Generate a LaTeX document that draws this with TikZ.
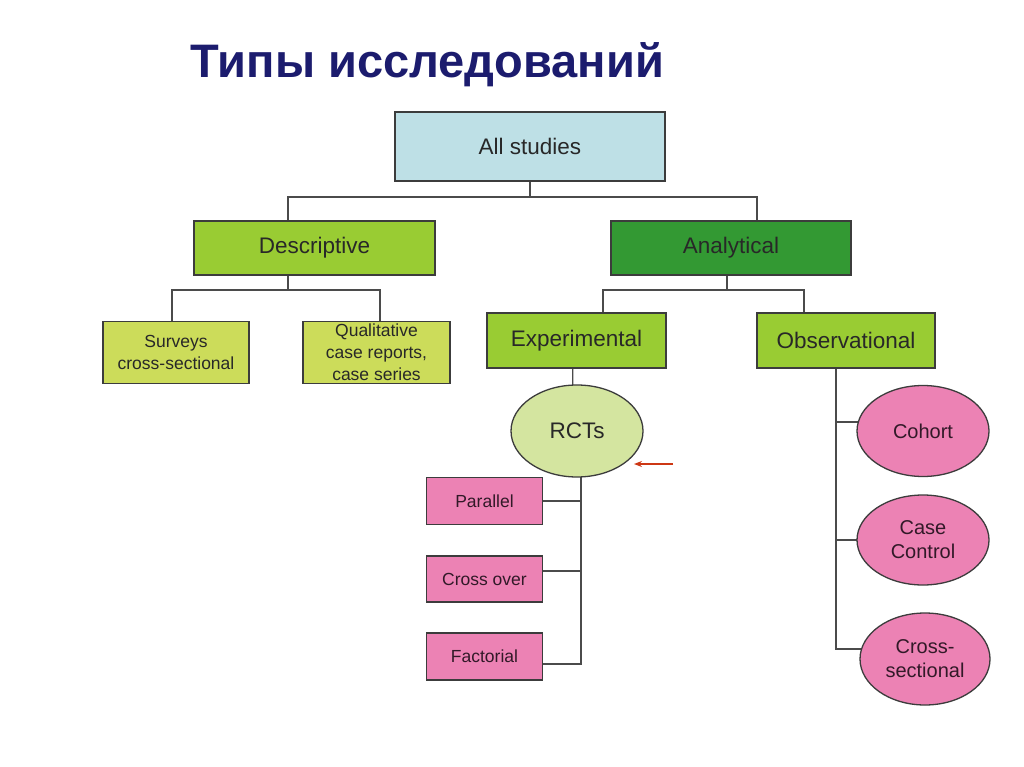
\documentclass[tikz,border=0pt]{standalone}
\usepackage{fontspec}
\setmainfont{Liberation Sans}
\usetikzlibrary{shapes.geometric,arrows.meta,backgrounds}
\definecolor{titleblue}{RGB}{28,28,110}
\definecolor{allblue}{RGB}{190,224,230}
\definecolor{greenA}{RGB}{153,204,51}
\definecolor{greenB}{RGB}{51,153,51}
\definecolor{greenC}{RGB}{204,220,90}
\definecolor{greenD}{RGB}{212,229,160}
\definecolor{pinkA}{RGB}{236,130,180}
\definecolor{edgegray}{RGB}{60,60,60}
\definecolor{linegray}{RGB}{75,75,75}
\definecolor{textgray}{RGB}{40,40,40}
\definecolor{textpink}{RGB}{50,25,40}
\definecolor{arrowred}{RGB}{205,55,20}
\tikzset{
  boxbase/.style={rectangle, draw=edgegray, line width=1.3pt, inner sep=0pt, align=center, text=textgray},
  bigbox/.style={boxbase, font=\fontsize{22.5}{27}\selectfont},
  smallbox/.style={boxbase, fill=greenC, minimum width=146pt, minimum height=62pt, font=\fontsize{17.5}{22}\selectfont},
  pinkbox/.style={boxbase, fill=pinkA, text=textpink, minimum width=116pt, minimum height=47pt, font=\fontsize{17.5}{22}\selectfont},
  ell/.style={ellipse, draw=edgegray, line width=1.3pt, inner sep=0pt, align=center, text=textgray, font=\fontsize{20}{24}\selectfont},
  pinkell/.style={ell, fill=pinkA, text=textpink},
  conn/.style={draw=linegray, line width=1.3pt},
  redarrow/.style={draw=arrowred, line width=1.3pt, -{Stealth[length=8pt,width=6pt]}}
}
\begin{document}
\begin{tikzpicture}[x=1pt,y=-1pt]
\useasboundingbox (0,0) rectangle (1024,767);

\node[anchor=base, text=titleblue, font=\fontsize{47}{56}\selectfont\bfseries] (title) at (427.5,78) {Типы исследований};

\node[bigbox, fill=allblue, minimum width=270pt, minimum height=69pt] (all) at (530,146.5) {All studies};
\node[bigbox, fill=greenA, minimum width=241pt, minimum height=54pt] (desc) at (314.5,248) {Descriptive};
\node[bigbox, fill=greenB, minimum width=240pt, minimum height=54pt] (anal) at (731,248) {Analytical};

\node[smallbox] (surv) at (176,352.5) {Surveys\\cross-sectional};
\node[smallbox, minimum width=147pt] (qual) at (376.5,352.5) {Qualitative\\case reports,\\case series};

\node[bigbox, fill=greenA, minimum width=179pt, minimum height=55pt] (exp) at (576.5,340.5) {Experimental};
\node[bigbox, fill=greenA, minimum width=178pt, minimum height=55pt] (obs) at (846,340.5) {Observational};

\node[ell, fill=greenD, minimum width=132pt, minimum height=92pt, font=\fontsize{22.5}{27}\selectfont] (rct) at (577,431) {RCTs};

\node[pinkbox] (par) at (484.5,501) {Parallel};
\node[pinkbox, minimum height=46pt] (cro) at (484.5,579) {Cross over};
\node[pinkbox] (fac) at (484.5,656.5) {Factorial};

\node[pinkell, minimum width=132pt, minimum height=91pt] (coh) at (923,431) {Cohort};
\node[pinkell, minimum width=132pt, minimum height=90pt] (cc) at (923,540) {Case\\Control};
\node[pinkell, minimum width=130pt, minimum height=92pt] (cs) at (925,659) {Cross-\\sectional};

\coordinate (j1) at (530,197);
\coordinate (j2) at (288,290);
\coordinate (j3) at (727,290);
\coordinate (k) at (581,664);
\coordinate (o1) at (836,422);
\coordinate (o2) at (836,540);
\coordinate (m) at (836,649);
\coordinate (arrS) at (673,464);
\coordinate (arrE) at (634,464);

\begin{pgfonlayer}{background}
\fill[white] (0,0) rectangle (1024,767);
\draw[conn] (all) -- (j1);
\draw[conn] (j1) -| ([xshift=-26.5pt]desc.center);
\draw[conn] (j1) -| ([xshift=26pt]anal.center);
\draw[conn] ([xshift=-26.5pt]desc.center) -- (j2);
\draw[conn] (j2) -| ([xshift=-4pt]surv.center);
\draw[conn] (j2) -| ([xshift=3.5pt]qual.center);
\draw[conn] ([xshift=-4pt]anal.center) -- (j3);
\draw[conn] (j3) -| ([xshift=26.5pt]exp.center);
\draw[conn] (j3) -| ([xshift=-42pt]obs.center);
\draw[conn] ([xshift=-4pt]exp.center) -- ([xshift=-4pt]rct.center);
\draw[conn] (k |- rct) -- (k) -- (k -| fac);
\draw[conn] (par) -- (par -| k);
\draw[conn] ([yshift=8pt]cro.center) -- ([yshift=8pt]cro.center -| k);
\draw[conn] ([xshift=-10pt]obs.center) -- (m) -- (m -| cs);
\draw[conn] (o1) -- (o1 -| coh);
\draw[conn] (o2) -- (o2 -| cc);
\end{pgfonlayer}

\draw[redarrow] (arrS) -- (arrE);
\end{tikzpicture}
\end{document}
